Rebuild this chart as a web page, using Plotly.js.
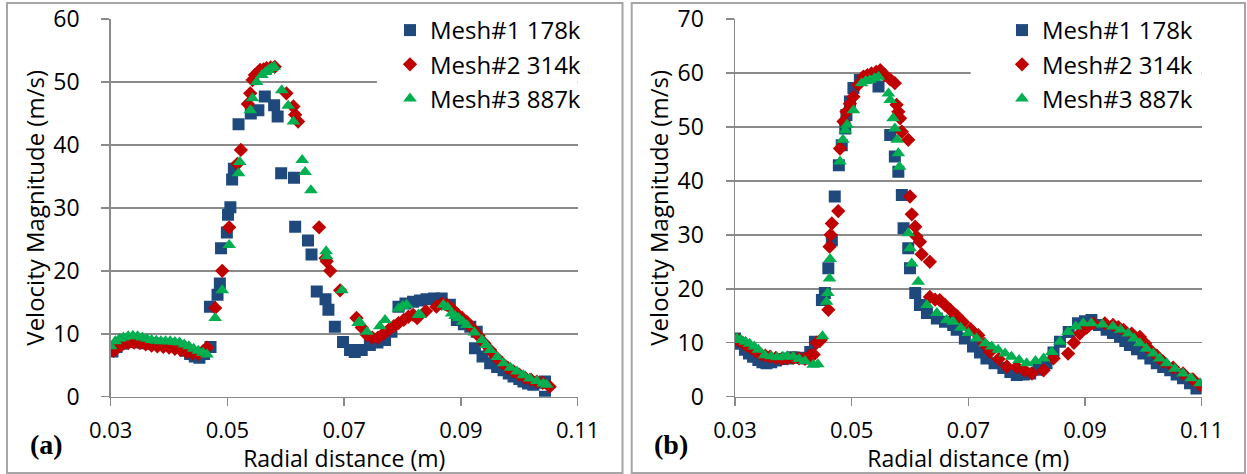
<!DOCTYPE html>
<html>
<head>
<meta charset="utf-8">
<script src="https://cdn.plot.ly/plotly-3.0.1.min.js"></script>
<style>html,body{margin:0;padding:0;background:#fff;}#chart{width:1247px;height:474px;}</style>
</head>
<body>
<div id="chart"></div>
<script>
// ---------- Data: panel (a) ----------
const seriesNames = ["Mesh#1 178k", "Mesh#2 314k", "Mesh#3 887k"];
const xTickVals = [0.03, 0.05, 0.07, 0.09, 0.11];
const xTickText = ["0.03", "0.05", "0.07", "0.09", "0.11"];
const panelLabels = ["(a)", "(b)"];

const aMesh1X = [0.0303,0.0310,0.0318,0.0326,0.0334,0.0342,0.0352,0.0362,0.0372,0.0382,0.0392,0.0402,0.0412,0.0420,0.0428,0.0436,0.0444,0.0452,0.0460,0.0471,
  0.0470,0.0483,0.0487,0.0489,0.0499,0.0501,0.0505,0.0508,0.0511,0.0519,0.0540,0.0553,0.0564,0.0580,0.0586,0.0592,0.0614,0.0616,0.0638,0.0644,
  0.0653,0.0668,0.0673,0.0684,0.0698,0.0710,0.0718,0.0730,0.0744,0.0757,0.0770,0.0781,0.0793,0.0805,0.0818,0.0830,0.0841,0.0854,0.0867,0.0881,
  0.0893,0.0905,0.0916,0.0927,0.0924,0.0937,0.0950,0.0962,0.0973,0.0982,0.0990,0.1000,0.1007,0.1015,0.1024,0.1034,0.1044,0.1044];
const aMesh1Y = [7.2,7.9,8.4,8.7,8.8,8.7,8.6,8.5,8.4,8.4,8.3,8.3,8.1,7.8,7.3,6.8,6.4,6.2,6.8,7.9,
  14.3,16.2,18.0,23.6,26.1,28.9,30.1,34.5,36.2,43.3,45.0,45.5,47.7,46.3,44.5,35.5,34.8,27.0,24.8,22.6,
  16.7,15.5,13.8,11.1,8.7,7.4,7.1,7.4,8.2,8.6,9.0,10.3,14.3,14.8,15.1,15.3,15.5,15.6,15.6,14.6,
  12.2,11.5,11.1,10.3,7.7,6.4,5.3,4.7,4.2,3.7,3.2,2.8,2.4,2.1,1.9,2.2,2.4,0.0];

const aMesh2X = [0.0305,0.0313,0.0320,0.0330,0.0340,0.0350,0.0360,0.0370,0.0380,0.0390,0.0400,0.0410,0.0420,0.0430,0.0440,0.0450,0.0458,0.0465,
  0.0479,0.0491,0.0503,0.0517,0.0523,0.0535,0.0539,0.0543,0.0547,0.0552,0.0556,0.0562,0.0567,0.0574,0.0581,0.0601,0.0613,0.0616,0.0621,
  0.0657,0.0668,0.0670,0.0676,0.0693,0.0721,0.0730,0.0739,0.0748,0.0758,0.0767,0.0776,0.0785,0.0793,0.0802,0.0810,0.0818,0.0825,0.0840,
  0.0858,0.0867,0.0876,0.0885,0.0893,0.0902,0.0910,0.0920,0.0930,0.0940,0.0950,0.0960,0.0970,0.0980,0.0990,0.1000,0.1010,0.1020,0.1030,0.1040,0.1052];
const aMesh2Y = [7.3,7.9,8.3,8.5,8.6,8.5,8.3,8.1,8.0,7.9,7.8,7.6,7.4,7.1,6.9,6.8,7.2,7.8,
  14.1,20.0,26.9,37.0,39.2,46.5,48.2,50.3,51.1,51.5,51.9,52.0,52.2,52.3,52.4,48.2,46.1,44.8,43.7,
  26.9,22.0,21.5,20.0,16.9,12.5,11.0,9.8,9.4,9.4,10.0,10.6,11.2,11.7,12.2,12.7,13.0,12.5,13.6,
  14.3,14.8,14.6,13.9,13.2,12.5,11.9,10.8,9.7,8.5,7.4,6.3,5.4,4.6,4.0,3.5,3.0,2.7,2.4,2.2,1.6];

const aMesh3X = [0.0300,0.0308,0.0315,0.0322,0.0330,0.0338,0.0346,0.0354,0.0362,0.0370,0.0378,0.0386,0.0394,0.0402,0.0410,0.0418,0.0426,0.0434,0.0442,0.0450,0.0458,0.0465,
  0.0479,0.0491,0.0503,0.0519,0.0521,0.0539,0.0543,0.0550,0.0559,0.0565,0.0570,0.0575,0.0580,0.0593,0.0604,0.0613,0.0628,0.0633,0.0643,
  0.0669,0.0670,0.0696,0.0724,0.0726,0.0739,0.0761,0.0770,0.0793,0.0800,0.0807,0.0827,0.0830,0.0870,0.0877,0.0884,0.0890,0.0896,0.0903,0.0910,
  0.0923,0.0936,0.0943,0.0950,0.0962,0.0973,0.0985,0.0996,0.1007,0.1018,0.1030,0.1041,0.1047];
const aMesh3Y = [8.0,8.8,9.2,9.4,9.6,9.7,9.6,9.4,9.2,9.0,8.9,8.8,8.8,8.8,8.7,8.6,8.3,8.0,7.6,7.3,7.0,6.7,
  12.5,16.9,24.1,35.5,37.3,45.5,47.4,50.0,51.1,51.6,51.9,52.2,52.4,48.7,46.2,43.7,37.6,35.7,32.8,
  23.1,22.3,16.9,11.7,11.9,10.3,11.2,12.2,14.0,14.4,14.6,13.0,13.0,14.6,14.2,13.2,12.8,12.5,11.9,11.4,
  10.2,9.0,8.2,7.4,6.3,5.3,4.6,4.0,3.4,2.9,2.5,2.1,1.9];

// ---------- Data: panel (b) ----------
const bMesh1X = [0.0300,0.0308,0.0317,0.0324,0.0331,0.0340,0.0347,0.0354,0.0362,0.0370,0.0380,0.0389,0.0398,0.0410,0.0423,0.0429,0.0437,
  0.0449,0.0454,0.0460,0.0466,0.0471,0.0478,0.0483,0.0489,0.0491,0.0497,0.0503,0.0514,0.0531,0.0546,0.0566,0.0574,0.0580,0.0586,0.0589,
  0.0597,0.0600,0.0609,0.0617,0.0629,0.0646,0.0660,0.0674,0.0680,0.0694,0.0708,0.0720,0.0731,0.0745,0.0760,0.0772,0.0783,0.0795,0.0806,
  0.0820,0.0834,0.0846,0.0857,0.0872,0.0888,0.0900,0.0911,0.0924,0.0937,0.0948,0.0960,0.0969,0.0977,0.0989,0.1000,0.1012,0.1023,0.1034,
  0.1046,0.1057,0.1068,0.1080,0.1091];
const bMesh1Y = [10.8,9.8,8.7,8.0,7.4,6.8,6.4,6.2,6.4,6.7,7.0,7.1,7.3,7.2,7.1,8.3,10.2,
  17.9,19.2,23.8,29.0,37.1,42.9,46.6,49.7,52.2,54.7,57.2,58.7,59.3,57.5,48.5,44.5,41.7,37.4,31.2,
  27.5,23.8,19.2,17.0,15.5,14.5,13.9,13.3,12.4,10.8,9.3,8.2,7.1,6.2,5.3,4.6,4.0,4.1,4.3,
  5.0,6.2,8.2,10.2,12.0,13.6,14.0,14.2,13.3,12.4,11.8,11.1,10.3,9.6,8.8,8.0,7.1,6.2,5.5,
  4.9,4.1,3.4,2.5,1.5];

const bMesh2X = [0.0305,0.0313,0.0320,0.0328,0.0336,0.0344,0.0352,0.0360,0.0370,0.0380,0.0390,0.0400,0.0410,0.0420,0.0428,0.0435,0.0440,0.0447,
  0.0460,0.0462,0.0464,0.0466,0.0477,0.0480,0.0486,0.0491,0.0497,0.0503,0.0511,0.0520,0.0527,0.0534,0.0542,0.0549,0.0557,0.0566,0.0574,
  0.0577,0.0580,0.0583,0.0586,0.0597,0.0600,0.0603,0.0609,0.0611,0.0617,0.0620,0.0634,0.0634,0.0643,0.0651,0.0660,0.0669,0.0680,0.0691,
  0.0704,0.0717,0.0727,0.0737,0.0752,0.0766,0.0783,0.0796,0.0809,0.0829,0.0846,0.0871,0.0881,0.0891,0.0903,0.0914,0.0934,0.0948,0.0957,
  0.0966,0.0980,0.0994,0.1003,0.1011,0.1023,0.1034,0.1051,0.1068,0.1085,0.1097];
const bMesh2Y = [10.5,10.0,9.5,9.0,8.4,7.9,7.6,7.4,7.2,7.0,7.1,7.2,7.1,7.0,7.6,7.8,10.0,10.5,
  16.1,27.8,30.0,32.1,34.4,46.0,51.0,52.8,54.3,55.6,57.8,59.3,59.6,59.9,60.2,60.5,59.6,58.8,58.1,
  54.1,52.8,51.6,49.1,47.6,37.1,33.8,31.5,29.7,28.7,26.4,25.0,18.5,18.0,17.9,17.0,16.1,15.0,13.8,
  12.5,11.4,9.8,8.3,7.0,5.6,5.5,4.9,4.3,4.9,7.1,8.0,10.0,11.7,12.8,13.6,13.6,13.3,12.9,
  12.4,11.7,11.1,9.9,8.7,7.6,6.5,5.4,4.3,3.2,2.2];

const bMesh3X = [0.0303,0.0310,0.0318,0.0325,0.0333,0.0340,0.0351,0.0362,0.0372,0.0382,0.0390,0.0400,0.0410,0.0420,0.0434,0.0442,
  0.0450,0.0457,0.0459,0.0462,0.0463,0.0480,0.0485,0.0489,0.0492,0.0503,0.0517,0.0524,0.0531,0.0539,0.0546,0.0563,0.0566,0.0571,0.0574,
  0.0578,0.0580,0.0582,0.0597,0.0600,0.0603,0.0614,0.0629,0.0646,0.0663,0.0674,0.0687,0.0700,0.0714,0.0729,0.0740,0.0751,0.0763,0.0774,
  0.0787,0.0800,0.0815,0.0829,0.0843,0.0857,0.0871,0.0884,0.0897,0.0911,0.0930,0.0948,0.0961,0.0974,0.0984,0.0994,0.1005,0.1017,0.1028,
  0.1040,0.1054,0.1068,0.1082,0.1097];
const bMesh3Y = [10.8,10.5,10.2,9.8,9.3,8.7,7.7,7.5,7.3,7.4,7.5,7.4,7.0,6.6,5.9,6.0,
  11.2,17.6,19.2,21.9,25.5,43.6,47.6,49.4,50.4,53.1,58.1,58.5,58.7,59.0,59.3,56.2,55.0,51.6,49.7,
  47.6,45.1,42.6,30.3,27.5,24.7,21.3,17.0,15.5,14.2,13.9,12.8,11.8,10.8,9.9,9.3,8.7,8.0,7.4,
  6.8,6.2,6.6,7.1,8.3,10.2,12.0,13.0,13.6,13.6,13.4,13.0,12.4,11.7,10.8,9.9,8.9,8.0,7.1,
  6.2,5.2,4.3,3.4,2.5];

// ---------- Styling ----------
const FONT = '"Open Sans", "DejaVu Sans", sans-serif';
const colors = ['#1F497D', '#C00000', '#00B050'];
const symbols = ['square', 'diamond', 'triangle-up'];
const sizes = [12, 11, 12];

const panelA = [[aMesh1X, aMesh1Y], [aMesh2X, aMesh2Y], [aMesh3X, aMesh3Y]];
const panelB = [[bMesh1X, bMesh1Y], [bMesh2X, bMesh2Y], [bMesh3X, bMesh3Y]];

const traces = [];
panelA.forEach((d, i) => traces.push({
  type: 'scatter', mode: 'markers', x: d[0], y: d[1], name: seriesNames[i],
  xaxis: 'x', yaxis: 'y', legend: 'legend',
  marker: {symbol: symbols[i], color: colors[i], size: sizes[i], line: {width: 0}}
}));
panelB.forEach((d, i) => traces.push({
  type: 'scatter', mode: 'markers', x: d[0], y: d[1], name: seriesNames[i],
  xaxis: 'x2', yaxis: 'y2', legend: 'legend2',
  marker: {symbol: symbols[i], color: colors[i], size: sizes[i], line: {width: 0}}
}));

const W = 1247, H = 474;
const yDom = [1 - 396.7 / H, 1 - 19 / H];
const gridCol = '#8a8a8a';

function xAxis(domain, anchor) {
  return {
    domain: domain, anchor: anchor, range: [0.03, 0.11],
    tickmode: 'array', tickvals: xTickVals, ticktext: xTickText,
    showgrid: false, zeroline: false,
    showline: true, linecolor: gridCol, linewidth: 1.5,
    ticks: 'outside', ticklen: 8, tickwidth: 1.5, tickcolor: gridCol,
    tickfont: {family: FONT, size: 22, color: '#000'},
    ticklabelstandoff: 5,
    title: {text: 'Radial distance (m)', font: {family: FONT, size: 23, color: '#000'}, standoff: 2}
  };
}
function yAxis(domain, anchor, max) {
  return {
    domain: domain, anchor: anchor, range: [0, max], dtick: 10, tick0: 0,
    showgrid: true, gridcolor: gridCol, gridwidth: 1.5, zeroline: false,
    showline: true, linecolor: gridCol, linewidth: 1.5,
    ticks: 'outside', ticklen: 8, tickwidth: 1.5, tickcolor: gridCol,
    tickfont: {family: FONT, size: 23, color: '#000'},
    ticklabelstandoff: 17,
    title: {text: 'Velocity Magnitude (m/s)', font: {family: FONT, size: 24, color: '#000'}, standoff: 2}
  };
}

const legendCommon = {
  font: {family: FONT, size: 24, color: '#000'}, bgcolor: 'rgba(0,0,0,0)',
  borderwidth: 0, xanchor: 'left', yanchor: 'top', tracegroupgap: 0, itemsizing: 'trace'
};

const layout = {
  width: W, height: H, margin: {l: 0, r: 0, t: 0, b: 0},
  paper_bgcolor: '#fff', plot_bgcolor: 'rgba(0,0,0,0)',
  showlegend: true,
  xaxis: xAxis([110.7 / W, 577.7 / W], 'y'),
  yaxis: yAxis(yDom, 'x', 60),
  xaxis2: xAxis([735 / W, 1201.7 / W], 'y2'),
  yaxis2: yAxis(yDom, 'x2', 70),
  legend: Object.assign({x: 390 / W, y: 1 - 8 / H}, legendCommon),
  legend2: Object.assign({x: 1002 / W, y: 1 - 8 / H}, legendCommon),
  shapes: [
    {type: 'rect', xref: 'paper', yref: 'paper', x0: 7 / W, x1: 622.5 / W, y0: 1 - 473 / H, y1: 1 - 3 / H,
     line: {color: '#a6a6a6', width: 2}, fillcolor: 'rgba(0,0,0,0)', layer: 'above'},
    {type: 'rect', xref: 'paper', yref: 'paper', x0: 631.7 / W, x1: 1245 / W, y0: 1 - 473 / H, y1: 1 - 3 / H,
     line: {color: '#a6a6a6', width: 2}, fillcolor: 'rgba(0,0,0,0)', layer: 'above'},
    // white legend background hiding the gridlines behind each legend
    {type: 'rect', xref: 'x', yref: 'y', x0: 0.0756, x1: 0.1105, y0: 45, y1: 61,
     line: {width: 0}, fillcolor: '#fff', layer: 'between'},
    {type: 'rect', xref: 'x2', yref: 'y2', x0: 0.0704, x1: 0.1105, y0: 55, y1: 71,
     line: {width: 0}, fillcolor: '#fff', layer: 'between'}
  ],
  annotations: [
    {text: '<b>' + panelLabels[0] + '</b>', xref: 'paper', yref: 'paper', x: 46 / W, y: 1 - 444 / H,
     xanchor: 'center', yanchor: 'middle', showarrow: false,
     font: {family: '"Liberation Serif", "Times New Roman", serif', size: 28, color: '#000'}},
    {text: '<b>' + panelLabels[1] + '</b>', xref: 'paper', yref: 'paper', x: 671 / W, y: 1 - 444 / H,
     xanchor: 'center', yanchor: 'middle', showarrow: false,
     font: {family: '"Liberation Serif", "Times New Roman", serif', size: 28, color: '#000'}}
  ]
};

Plotly.newPlot('chart', traces, layout, {displayModeBar: false, staticPlot: true});
</script>
</body>
</html>
